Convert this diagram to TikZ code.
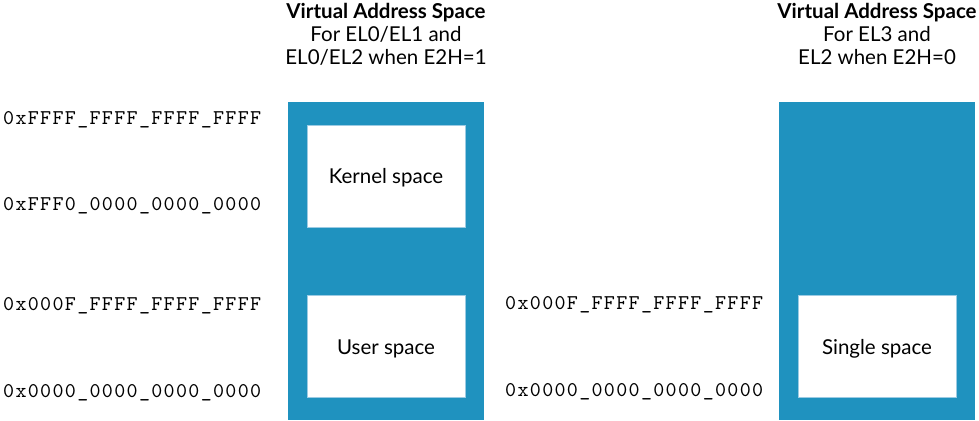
\documentclass[tikz,border=0pt]{standalone}
\usepackage{fontspec}
\setmainfont{Lato}
\newfontfamily\addrfont{lmmono10-regular}[Extension=.otf,LetterSpace=6.3]
\definecolor{spaceblue}{HTML}{1F92BF}
\definecolor{edgeblue}{HTML}{9CCBE3}
\begin{document}
\begin{tikzpicture}[x=1pt,y=-1pt,
  region/.style={fill=spaceblue,draw=none},
  spacebox/.style={fill=white,draw=edgeblue,line width=0.6pt,minimum width=158pt,minimum height=102pt,inner sep=0pt,text height=15pt,text depth=0pt,font=\fontsize{20.5}{24}\selectfont},
  addr/.style={anchor=base west,inner sep=0pt,font=\fontsize{21}{24}\addrfont},
  title/.style={anchor=north,inner sep=0pt,align=center,font=\fontsize{20.5}{23}\selectfont}]
\useasboundingbox (0,0) rectangle (979,420);
\fill[white] (0,0) rectangle (979,420);
% left column
\coordinate (lefttop) at (288,102);
\coordinate (leftbot) at (484,420);
\fill[region] (lefttop) rectangle (leftbot);
\node[spacebox] (kernel) at (386,176) {Kernel space};
\node[spacebox] (user) at (386,346.5) {User space};
\node[title] (lefttitle) at (386,3) {\textbf{Virtual Address Space}\\For EL0/EL1 and\\EL0/EL2 when E2H=1};
% right column
\coordinate (righttop) at (779,102);
\coordinate (rightbot) at (975,420);
\fill[region] (righttop) rectangle (rightbot);
\node[spacebox] (single) at (877,346.5) {Single space};
\node[title] (righttitle) at (877,3) {\textbf{Virtual Address Space}\\For EL3 and\\EL2 when E2H=0};
% addresses
\node[addr] (a1) at (3,124) {0xFFFF\_FFFF\_FFFF\_FFFF};
\node[addr] (a2) at (3,210) {0xFFF0\_0000\_0000\_0000};
\node[addr] (a3) at (3,310) {0x000F\_FFFF\_FFFF\_FFFF};
\node[addr] (a4) at (3,397) {0x0000\_0000\_0000\_0000};
\node[addr] (b3) at (505,309) {0x000F\_FFFF\_FFFF\_FFFF};
\node[addr] (b4) at (505,396) {0x0000\_0000\_0000\_0000};
\end{tikzpicture}
\end{document}
